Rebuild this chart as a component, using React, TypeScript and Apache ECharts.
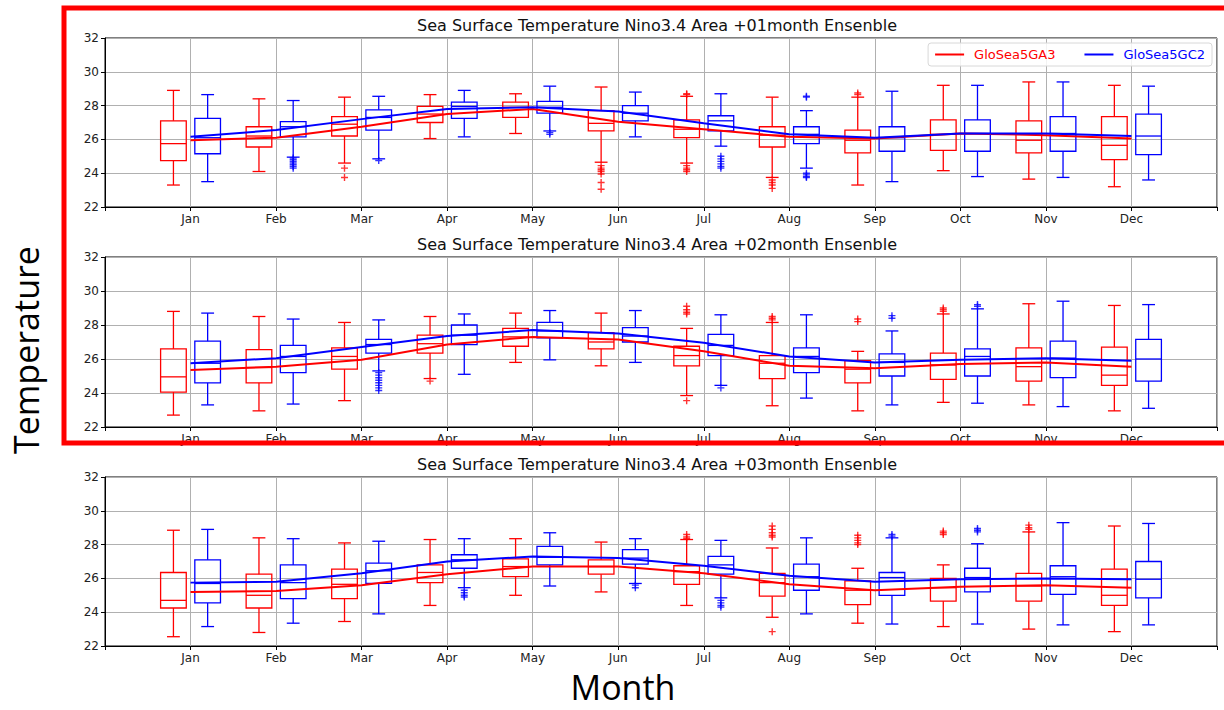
import React, { useEffect, useRef } from "react";
import * as echarts from "echarts";

const months = ["Jan", "Feb", "Mar", "Apr", "May", "Jun", "Jul", "Aug", "Sep", "Oct", "Nov", "Dec"];
const seriesNames = ["GloSea5GA3", "GloSea5GC2"];
const panelTitles = [
  "Sea Surface Temperature Nino3.4 Area +01month Ensenble",
  "Sea Surface Temperature Nino3.4 Area +02month Ensenble",
  "Sea Surface Temperature Nino3.4 Area +03month Ensenble",
];

// [low whisker, Q1, median, Q3, high whisker] per month
const p1GA3Box = [
  [23.3, 24.75, 25.75, 27.1, 28.9], [24.1, 25.55, 26.2, 26.75, 28.4], [24.6, 26.2, 26.9, 27.35, 28.5],
  [26.05, 27.0, 27.5, 27.95, 28.65], [26.35, 27.3, 27.9, 28.2, 28.7], [24.65, 26.5, 26.95, 27.7, 29.1],
  [24.6, 26.1, 26.6, 27.15, 28.55], [23.75, 25.55, 26.25, 26.75, 28.5], [23.3, 25.2, 25.95, 26.55, 28.5],
  [24.15, 25.35, 26.3, 27.15, 29.2], [23.65, 25.2, 25.95, 27.1, 29.4], [23.2, 24.8, 25.65, 27.35, 29.2],
];
const p1GC2Box = [
  [23.5, 25.15, 26.1, 27.25, 28.65], [24.95, 26.15, 26.75, 27.05, 28.3], [24.85, 26.55, 27.3, 27.75, 28.55],
  [26.15, 27.25, 27.95, 28.2, 28.9], [26.5, 27.55, 27.9, 28.25, 29.15], [26.15, 27.1, 27.55, 28.0, 28.8],
  [25.6, 26.5, 27.1, 27.4, 28.7], [24.3, 25.75, 26.3, 26.75, 27.7], [23.5, 25.3, 26.1, 26.75, 28.85],
  [23.8, 25.3, 26.35, 27.15, 29.2], [23.75, 25.3, 26.35, 27.35, 29.4], [23.6, 25.1, 26.2, 27.5, 29.15],
];
const p1GA3Mean = [25.95, 26.1, 26.75, 27.5, 27.8, 27.05, 26.6, 26.15, 26.05, 26.35, 26.25, 26.05];
const p1GC2Mean = [26.15, 26.55, 27.2, 27.8, 27.9, 27.65, 26.95, 26.3, 26.1, 26.35, 26.35, 26.2];
const p1GA3Out = [
  [3, 24.3], [3, 23.75],
  [6, 24.45], [6, 24.3], [6, 24.2], [6, 24.1], [6, 23.95], [6, 23.45], [6, 23.05],
  [7, 28.7], [7, 28.65], [7, 24.45], [7, 24.3], [7, 24.2], [7, 24.1],
  [8, 23.6], [8, 23.45], [8, 23.3], [8, 23.1],
  [9, 28.75], [9, 28.65],
];
const p1GC2Out = [
  [2, 24.9], [2, 24.8], [2, 24.7], [2, 24.6], [2, 24.5], [2, 24.4], [2, 24.3],
  [3, 24.75], [5, 26.4], [5, 26.3],
  [7, 25.0], [7, 24.85], [7, 24.7], [7, 24.55], [7, 24.4], [7, 24.3],
  [8, 28.5], [8, 28.55], [8, 24.0], [8, 23.9], [8, 23.8], [8, 23.75],
];

const p2GA3Box = [
  [22.7, 24.05, 24.95, 26.6, 28.8], [22.95, 24.6, 25.5, 26.55, 28.5], [23.55, 25.4, 26.15, 26.65, 28.15],
  [24.85, 26.35, 26.9, 27.4, 28.5], [25.8, 26.75, 27.3, 27.8, 28.7], [25.6, 26.6, 27.0, 27.55, 28.7],
  [23.85, 25.6, 26.2, 26.75, 27.8], [23.25, 24.85, 25.75, 26.2, 28.15], [22.95, 24.6, 25.4, 25.9, 26.45],
  [23.45, 24.8, 25.65, 26.35, 28.65], [23.3, 24.7, 25.55, 26.65, 29.25], [22.95, 24.45, 25.05, 26.7, 29.15],
];
const p2GC2Box = [
  [23.3, 24.6, 25.75, 27.05, 28.7], [23.35, 25.2, 26.15, 26.8, 28.35], [25.3, 26.35, 26.85, 27.15, 28.3],
  [25.1, 26.85, 27.4, 28.0, 28.65], [25.95, 27.25, 27.65, 28.15, 28.85], [25.8, 27.0, 27.35, 27.85, 28.85],
  [24.45, 26.2, 26.8, 27.45, 28.6], [23.7, 25.2, 26.15, 26.65, 28.6], [23.3, 25.0, 25.8, 26.3, 27.65],
  [23.4, 25.0, 26.15, 26.6, 28.95], [23.2, 24.9, 26.05, 27.05, 29.4], [23.1, 24.7, 26.0, 27.15, 29.2],
];
const p2GA3Mean = [25.35, 25.55, 25.95, 26.85, 27.3, 27.15, 26.45, 25.6, 25.45, 25.7, 25.8, 25.55];
const p2GC2Mean = [25.75, 26.05, 26.7, 27.35, 27.7, 27.5, 26.95, 26.15, 25.8, 25.95, 26.05, 25.9];
const p2GA3Out = [
  [4, 24.7],
  [7, 29.1], [7, 28.9], [7, 28.75], [7, 28.65], [7, 23.55],
  [8, 28.5], [8, 28.4], [8, 28.3],
  [9, 28.35], [9, 28.2],
  [10, 29.0], [10, 28.9], [10, 28.8],
];
const p2GC2Out = [
  [3, 25.2], [3, 25.05], [3, 24.9], [3, 24.75], [3, 24.6], [3, 24.45], [3, 24.3], [3, 24.15],
  [7, 24.3],
  [9, 28.55], [9, 28.4],
  [10, 29.2], [10, 29.1],
];

const p3GA3Box = [
  [22.55, 24.25, 24.7, 26.35, 28.85], [22.8, 24.25, 25.0, 26.25, 28.4], [23.45, 24.8, 25.65, 26.55, 28.1],
  [24.4, 25.75, 26.35, 26.8, 28.3], [25.0, 26.1, 26.7, 27.15, 28.35], [25.2, 26.25, 26.7, 27.1, 28.15],
  [24.4, 25.65, 26.4, 26.75, 28.3], [23.7, 24.95, 25.75, 26.3, 27.8], [23.35, 24.45, 25.3, 25.85, 26.6],
  [23.15, 24.65, 25.45, 26.0, 26.8], [23.0, 24.65, 25.55, 26.3, 28.75], [22.85, 24.4, 25.0, 26.55, 29.1],
];
const p3GC2Box = [
  [23.15, 24.55, 25.7, 27.1, 28.9], [23.35, 24.8, 25.75, 26.8, 28.35], [23.9, 25.7, 26.45, 26.9, 28.2],
  [25.45, 26.6, 27.1, 27.4, 28.35], [25.55, 26.8, 27.25, 27.9, 28.7], [25.7, 26.85, 27.2, 27.7, 28.35],
  [24.85, 26.25, 26.8, 27.3, 28.25], [23.9, 25.3, 26.1, 26.85, 28.4], [23.3, 25.0, 26.05, 26.35, 28.4],
  [23.3, 25.2, 26.05, 26.6, 28.05], [23.25, 25.05, 26.1, 26.75, 29.3], [23.25, 24.85, 25.95, 27.0, 29.25],
];
const p3GA3Mean = [25.2, 25.25, 25.6, 26.25, 26.7, 26.7, 26.3, 25.65, 25.3, 25.5, 25.6, 25.45];
const p3GC2Mean = [25.75, 25.8, 26.3, 27.0, 27.3, 27.2, 26.75, 26.15, 25.8, 25.95, 26.0, 25.95];
const p3GA3Out = [
  [7, 28.6], [7, 28.45], [7, 28.35],
  [8, 29.1], [8, 28.9], [8, 28.7], [8, 28.55], [8, 28.45], [8, 22.85],
  [9, 28.55], [9, 28.4], [9, 28.25], [9, 28.1], [9, 28.0],
  [10, 28.8], [10, 28.7], [10, 28.6],
  [11, 29.15], [11, 29.0], [11, 28.9],
];
const p3GC2Out = [
  [4, 25.3], [4, 25.15], [4, 25.0], [4, 24.9],
  [6, 25.6], [6, 25.45],
  [7, 24.7], [7, 24.55], [7, 24.4], [7, 24.3],
  [9, 28.6], [9, 28.5],
  [10, 28.95], [10, 28.85], [10, 28.75],
];

const panels = [
  { ga3Box: p1GA3Box, gc2Box: p1GC2Box, ga3Mean: p1GA3Mean, gc2Mean: p1GC2Mean, ga3Out: p1GA3Out, gc2Out: p1GC2Out },
  { ga3Box: p2GA3Box, gc2Box: p2GC2Box, ga3Mean: p2GA3Mean, gc2Mean: p2GC2Mean, ga3Out: p2GA3Out, gc2Out: p2GC2Out },
  { ga3Box: p3GA3Box, gc2Box: p3GC2Box, ga3Mean: p3GA3Mean, gc2Mean: p3GC2Mean, ga3Out: p3GA3Out, gc2Out: p3GC2Out },
];

const RED = "#ff0000";
const BLUE = "#0000ff";
const BOX_W = 0.3;
const OFFSET = 0.2;
const FONT = "DejaVu Sans";
const PLUS = "path://M4,0H6V4H10V6H6V10H4V6H0V4H4Z";

const gridTops = [38, 257, 477];
const gridHeights = [169, 170, 169];

function makeRender(color: string) {
  return (params: any, api: any) => {
    const x = api.value(0);
    const pts = [1, 2, 3, 4, 5].map((k) => api.coord([x, api.value(k)]));
    const cx = pts[0][0];
    const w = api.size([BOX_W, 0])[0];
    const cap = w / 2;
    const style = { stroke: color, lineWidth: 1.3, fill: "none" };
    return {
      type: "group",
      children: [
        { type: "line", shape: { x1: cx, y1: pts[0][1], x2: cx, y2: pts[1][1] }, style },
        { type: "line", shape: { x1: cx, y1: pts[3][1], x2: cx, y2: pts[4][1] }, style },
        { type: "line", shape: { x1: cx - cap / 2, y1: pts[0][1], x2: cx + cap / 2, y2: pts[0][1] }, style },
        { type: "line", shape: { x1: cx - cap / 2, y1: pts[4][1], x2: cx + cap / 2, y2: pts[4][1] }, style },
        { type: "rect", shape: { x: cx - w / 2, y: pts[3][1], width: w, height: pts[1][1] - pts[3][1] }, style },
        { type: "line", shape: { x1: cx - w / 2, y1: pts[2][1], x2: cx + w / 2, y2: pts[2][1] }, style },
      ],
    };
  };
}

function buildOption() {
  const grid: any[] = [];
  const xAxis: any[] = [];
  const yAxis: any[] = [];
  const series: any[] = [];
  const graphic: any[] = [];

  panels.forEach((p, i) => {
    grid.push({ left: 105, right: 7, top: gridTops[i], height: gridHeights[i], show: true, borderColor: "#000", borderWidth: 1 });
    xAxis.push({
      type: "value", gridIndex: i, min: 0, max: 13, interval: 1,
      axisLine: { show: true, onZero: false, lineStyle: { color: "#000" } },
      axisTick: { show: true, length: 4, lineStyle: { color: "#000" } },
      axisLabel: { formatter: (v: number) => months[v - 1] ?? "", fontSize: 12, color: "#222", fontFamily: FONT, margin: 6 },
      splitLine: { show: true, lineStyle: { color: "#b0b0b0", width: 1 } },
    });
    yAxis.push({
      type: "value", gridIndex: i, min: 22, max: 32, interval: 2,
      axisLine: { show: true, onZero: false, lineStyle: { color: "#000" } },
      axisTick: { show: true, length: 4, lineStyle: { color: "#000" } },
      axisLabel: { fontSize: 12, color: "#222", fontFamily: FONT, margin: 6 },
      splitLine: { show: true, lineStyle: { color: "#b0b0b0", width: 1 } },
    });
    const defs = [
      { box: p.ga3Box, mean: p.ga3Mean, out: p.ga3Out, color: RED, sign: -1, name: seriesNames[0] },
      { box: p.gc2Box, mean: p.gc2Mean, out: p.gc2Out, color: BLUE, sign: 1, name: seriesNames[1] },
    ];
    defs.forEach((d) => {
      series.push({
        type: "custom", xAxisIndex: i, yAxisIndex: i, silent: true, z: 2,
        data: d.box.map((b, m) => [m + 1 + d.sign * OFFSET, ...b]),
        encode: { x: 0, y: [1, 2, 3, 4, 5] },
        renderItem: makeRender(d.color),
      });
      series.push({
        type: "scatter", xAxisIndex: i, yAxisIndex: i, silent: true, z: 3,
        symbol: PLUS, symbolSize: 7,
        itemStyle: { color: d.color },
        data: d.out.map(([m, v]) => [m + d.sign * OFFSET, v]),
      });
    });
    defs.forEach((d) => {
      series.push({
        type: "line", name: d.name, xAxisIndex: i, yAxisIndex: i, silent: true, z: 4,
        showSymbol: false, symbol: "none",
        lineStyle: { color: d.color, width: 2 }, itemStyle: { color: d.color },
        data: d.mean.map((v, m) => [m + 1, v]),
      });
    });
    graphic.push({
      type: "text", x: 657, y: gridTops[i] - 13,
      style: { text: panelTitles[i], fontSize: 16, fontFamily: FONT, fill: "#111", align: "center", verticalAlign: "middle" },
    });
  });

  graphic.push({
    type: "text", x: 26, y: 350, rotation: Math.PI / 2,
    style: { text: "Temperature", fontSize: 34, lineHeight: 36, fontFamily: "Open Sans", fill: "#000", align: "center", verticalAlign: "middle" },
  });
  graphic.push({
    type: "text", x: 623, y: 687,
    style: { text: "Month", fontSize: 34, lineHeight: 32, fontFamily: "Open Sans", fill: "#000", align: "center", verticalAlign: "middle" },
  });
  graphic.push({
    type: "rect", z: 100,
    shape: { x: 64, y: 8, width: 1240, height: 435 },
    style: { fill: "none", stroke: RED, lineWidth: 5 },
  });

  return {
    animation: false,
    backgroundColor: "#fff",
    grid, xAxis, yAxis, series, graphic,
    legend: {
      right: 12, top: 43, orient: "horizontal",
      icon: "rect", itemWidth: 29, itemHeight: 2, itemGap: 29,
      padding: [5, 7, 5, 7],
      backgroundColor: "rgba(255,255,255,0.85)", borderColor: "#d8d8d8", borderWidth: 1, borderRadius: 3,
      selectedMode: false,
      textStyle: { fontFamily: FONT, fontSize: 13, padding: [0, 0, 0, 5] },
      data: [
        { name: seriesNames[0], textStyle: { color: RED, padding: [0, 0, 0, 5] } },
        { name: seriesNames[1], textStyle: { color: BLUE, padding: [0, 0, 0, 5] } },
      ],
    },
  };
}

export default function App() {
  const ref = useRef<HTMLDivElement>(null);
  useEffect(() => {
    if (!ref.current) return;
    const chart = echarts.init(ref.current, null, { renderer: "svg" });
    chart.setOption(buildOption() as any);
    return () => chart.dispose();
  }, []);
  return <div ref={ref} style={{ position: "absolute", left: 0, top: 0, width: 1224, height: 710 }} />;
}
